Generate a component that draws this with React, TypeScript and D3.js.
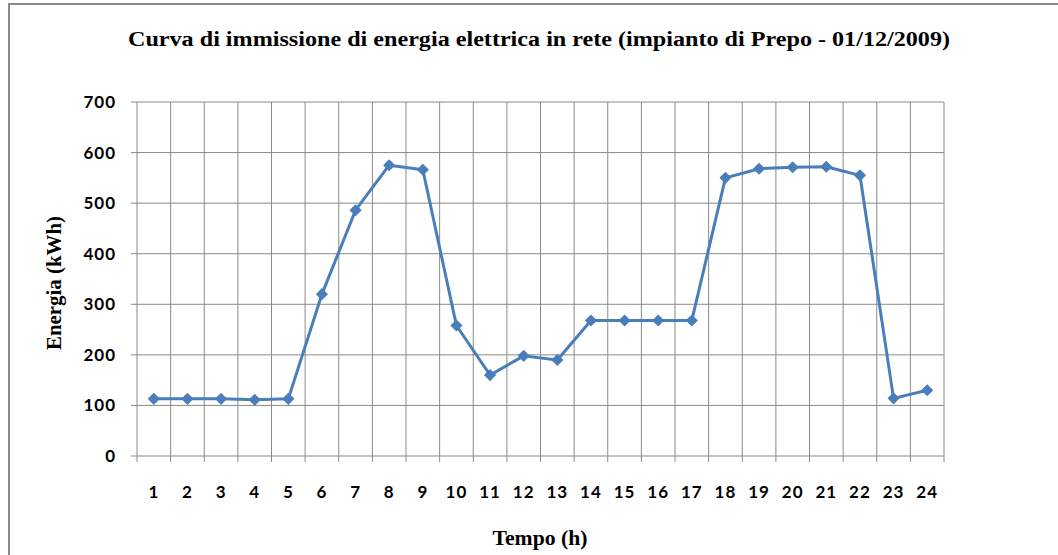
import { useEffect, useRef } from "react";
import * as d3 from "d3";

// hourly energy fed into the grid (kWh)
const hours = ["1", "2", "3", "4", "5", "6", "7", "8", "9", "10", "11", "12", "13", "14", "15", "16", "17", "18", "19", "20", "21", "22", "23", "24"];
const energy = [113, 113, 113, 111, 113, 320, 486, 575, 566, 258, 160, 198, 190, 268, 268, 268, 268, 550, 568, 571, 572, 555, 114, 130];
const yTicks = [0, 100, 200, 300, 400, 500, 600, 700];

const title = "Curva di immissione di energia elettrica in rete (impianto di Prepo - 01/12/2009)";

export default function App() {
  const svgRef = useRef<SVGSVGElement>(null);

  useEffect(() => {
    if (!svgRef.current) return;
    const svg = d3.select(svgRef.current);
    svg.selectAll("*").remove();

    const left = 137, right = 944, top = 102, bottom = 456;
    const grid = "#8a8a8a";
    const blue = "#4a7ebb";

    const x = d3.scaleBand<string>().domain(hours).range([left, right]).padding(0);
    const y = d3.scaleLinear().domain([0, 700]).range([bottom, top]);

    // outer frame
    svg.append("rect")
      .attr("x", 9).attr("y", 4)
      .attr("width", 1070).attr("height", 570)
      .attr("fill", "white")
      .attr("stroke", "#888").attr("stroke-width", 2);

    // title
    svg.append("text")
      .attr("x", 539).attr("y", 46)
      .attr("text-anchor", "middle")
      .attr("font-family", "Liberation Serif")
      .attr("font-weight", "bold")
      .attr("font-size", 20)
      .attr("textLength", 822)
      .attr("lengthAdjust", "spacingAndGlyphs")
      .text(title);

    // horizontal grid + y ticks
    const yg = svg.append("g");
    yTicks.forEach(t => {
      yg.append("line")
        .attr("x1", left - 6).attr("x2", right)
        .attr("y1", y(t)).attr("y2", y(t))
        .attr("stroke", grid).attr("stroke-width", 1);
      yg.append("text")
        .attr("x", 116).attr("y", y(t))
        .attr("dy", "0.35em")
        .attr("text-anchor", "end")
        .attr("font-family", "Lato")
        .attr("font-weight", "bold")
        .attr("font-size", 17)
        .attr("letter-spacing", 1)
        .text(t);
    });

    // vertical grid at band boundaries + x ticks
    const bounds = hours.map(h => x(h) as number).concat([right]);
    bounds.forEach(b => {
      svg.append("line")
        .attr("x1", b).attr("x2", b)
        .attr("y1", top).attr("y2", bottom + 6)
        .attr("stroke", grid).attr("stroke-width", 1);
    });

    const cx = (h: string) => (x(h) as number) + x.bandwidth() / 2;

    hours.forEach(h => {
      svg.append("text")
        .attr("x", cx(h)).attr("y", 498)
        .attr("text-anchor", "middle")
        .attr("font-family", "Lato")
        .attr("font-weight", "bold")
        .attr("font-size", 17)
        .attr("letter-spacing", 1)
        .text(h);
    });

    // axis titles
    svg.append("text")
      .attr("x", 540).attr("y", 545)
      .attr("text-anchor", "middle")
      .attr("font-family", "Liberation Serif")
      .attr("font-weight", "bold")
      .attr("font-size", 20)
      .attr("textLength", 95)
      .attr("lengthAdjust", "spacingAndGlyphs")
      .text("Tempo (h)");

    svg.append("text")
      .attr("transform", `translate(61,${(top + bottom) / 2 + 4}) rotate(-90)`)
      .attr("text-anchor", "middle")
      .attr("font-family", "Liberation Serif")
      .attr("font-weight", "bold")
      .attr("font-size", 20)
      .attr("textLength", 134)
      .attr("lengthAdjust", "spacingAndGlyphs")
      .text("Energia (kWh)");

    // line
    const line = d3.line<number>()
      .x((_, i) => cx(hours[i]))
      .y(d => y(d));

    svg.append("path")
      .datum(energy)
      .attr("fill", "none")
      .attr("stroke", blue)
      .attr("stroke-width", 3)
      .attr("stroke-linejoin", "round")
      .attr("d", line);

    // diamond markers
    const diamond = d3.symbol(d3.symbolSquare, 74)();
    svg.selectAll("path.marker")
      .data(energy)
      .enter()
      .append("path")
      .attr("class", "marker")
      .attr("d", diamond)
      .attr("fill", blue)
      .attr("transform", (d, i) => `translate(${cx(hours[i])},${y(d)}) rotate(45)`);
  }, []);

  return (
    <svg
      ref={svgRef}
      width={1058}
      height={555}
      style={{ position: "absolute", left: 0, top: 0, background: "white" }}
    />
  );
}
